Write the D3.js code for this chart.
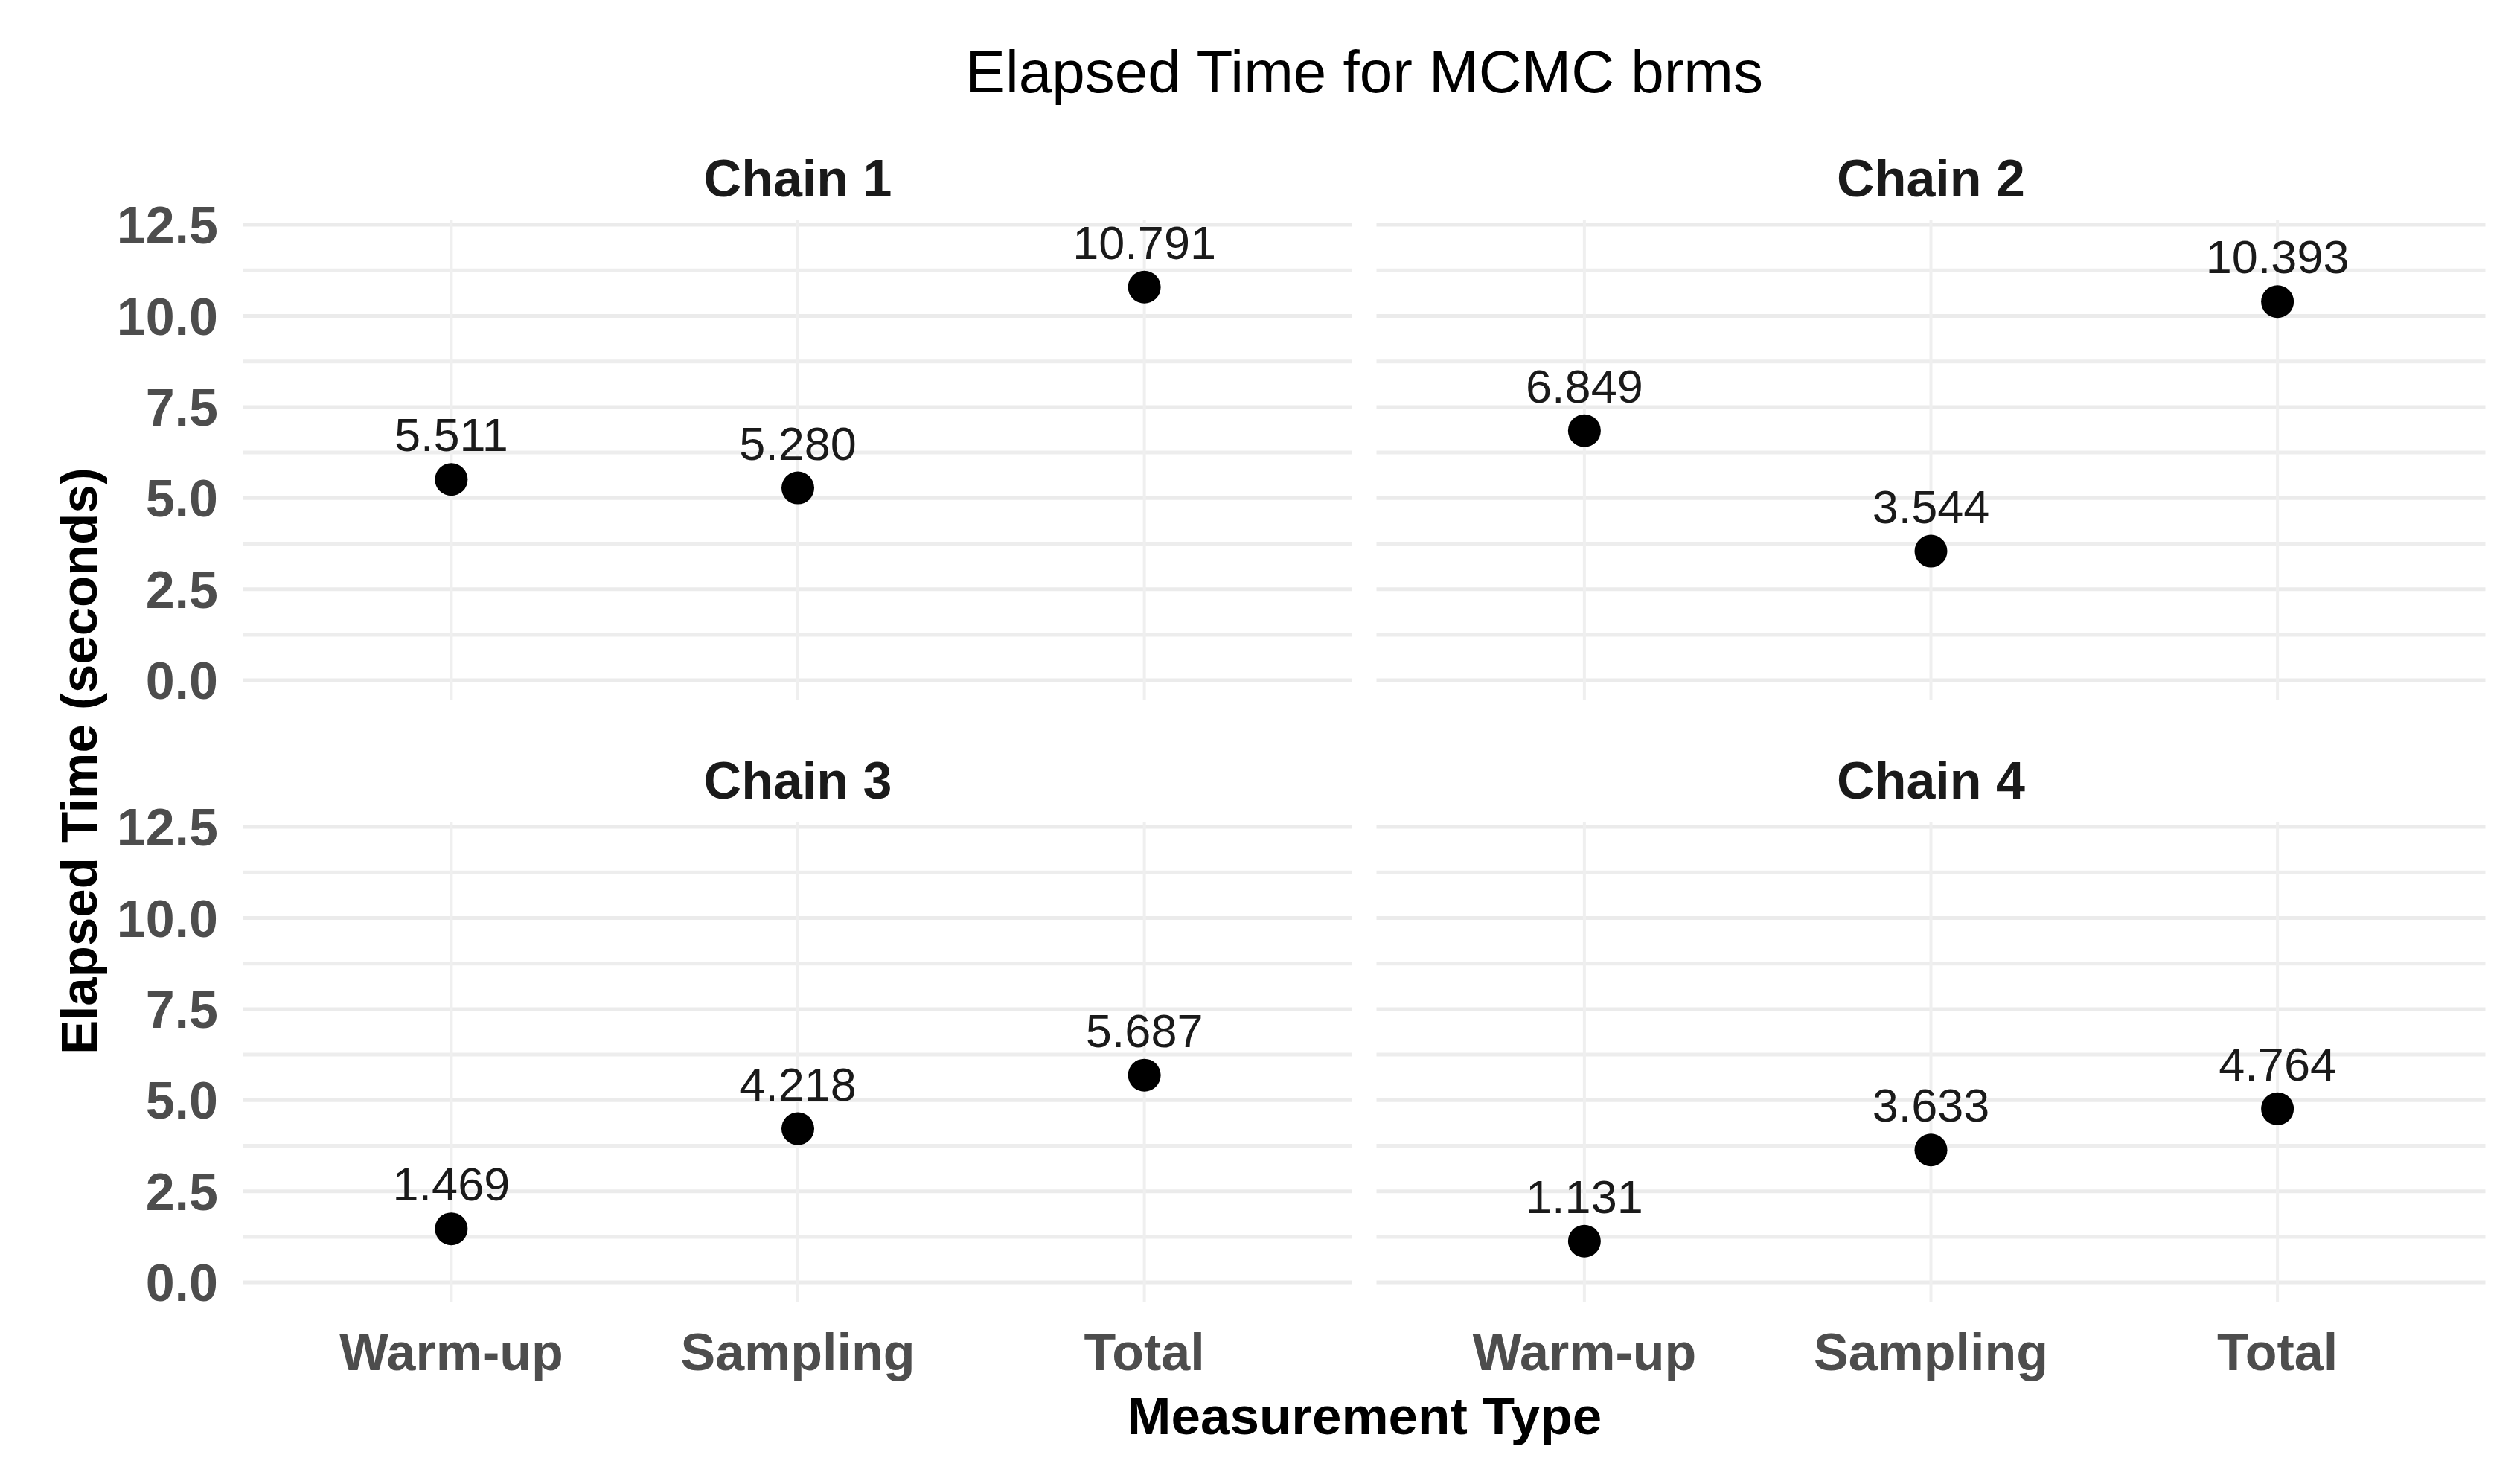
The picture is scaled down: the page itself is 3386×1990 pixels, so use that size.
<!DOCTYPE html>
<html>
<head>
<meta charset="utf-8">
<script src="https://cdn.jsdelivr.net/npm/d3@7"></script>
<style>
  html, body { margin: 0; padding: 0; background: #fff; }
  svg text { font-family: "Liberation Sans", Arial, sans-serif; }
</style>
</head>
<body>
<svg id="chart" width="3386" height="1990"></svg>
<script>
// ---- data ----
const chains = ["Chain 1", "Chain 2", "Chain 3", "Chain 4"];
const categories = ["Warm-up", "Sampling", "Total"];
const chain1 = [5.511, 5.280, 10.791];
const chain2 = [6.849, 3.544, 10.393];
const chain3 = [1.469, 4.218, 5.687];
const chain4 = [1.131, 3.633, 4.764];
const yTicks = [0, 2.5, 5, 7.5, 10, 12.5];
const yMinor = [1.25, 3.75, 6.25, 8.75, 11.25];
const titleText = "Elapsed Time for MCMC brms";
const xTitle = "Measurement Type";
const yTitle = "Elapsed Time (seconds)";

const series = [chain1, chain2, chain3, chain4];

// ---- layout ----
const svg = d3.select("#chart");
const W = 3386, H = 1990;
svg.append("rect").attr("width", W).attr("height", H).attr("fill", "#fff");

const colX = [327, 1849.5];
const panelW = 1490;
const rowY = [295, 1104];
const panelH = 646;

const yDomain = [-0.55, 12.645];

const font = "'Liberation Sans', Arial, sans-serif";

series.forEach((vals, i) => {
  const col = i % 2, row = Math.floor(i / 2);
  const x0 = colX[col], y0 = rowY[row];
  const x = d3.scalePoint().domain(categories).range([x0, x0 + panelW]).padding(0.6);
  const y = d3.scaleLinear().domain(yDomain).range([y0 + panelH, y0]);
  const g = svg.append("g");

  // minor grid
  g.selectAll(".minor").data(yMinor).join("line")
    .attr("x1", x0).attr("x2", x0 + panelW)
    .attr("y1", d => y(d)).attr("y2", d => y(d))
    .attr("stroke", "#ededed").attr("stroke-width", 5);
  // major grid
  g.selectAll(".major").data(yTicks).join("line")
    .attr("x1", x0).attr("x2", x0 + panelW)
    .attr("y1", d => y(d)).attr("y2", d => y(d))
    .attr("stroke", "#ebebeb").attr("stroke-width", 5);
  // vertical grid
  g.selectAll(".vgrid").data(categories).join("line")
    .attr("x1", d => x(d)).attr("x2", d => x(d))
    .attr("y1", y0).attr("y2", y0 + panelH)
    .attr("stroke", "#efefef").attr("stroke-width", 4);

  // strip title
  g.append("text")
    .attr("x", x0 + panelW / 2).attr("y", y0 - 31)
    .attr("text-anchor", "middle")
    .attr("font-size", 70).attr("font-weight", "bold")
    .attr("fill", "#1a1a1a")
    .text(chains[i]);

  // y tick labels (left column)
  if (col === 0) {
    g.selectAll(".ytl").data(yTicks).join("text")
      .attr("x", 293).attr("y", d => y(d))
      .attr("dy", "0.36em")
      .attr("text-anchor", "end")
      .attr("font-size", 70).attr("font-weight", "bold")
      .attr("fill", "#4d4d4d")
      .text(d => d3.format(".1f")(d));
  }
  // x tick labels (bottom row)
  if (row === 1) {
    g.selectAll(".xtl").data(categories).join("text")
      .attr("x", d => x(d)).attr("y", 1841)
      .attr("text-anchor", "middle")
      .attr("font-size", 70).attr("font-weight", "bold")
      .attr("fill", "#4d4d4d")
      .text(d => d);
  }

  const pts = categories.map((c, j) => ({ c, v: vals[j] }));
  // points
  g.selectAll(".pt").data(pts).join("circle")
    .attr("cx", d => x(d.c)).attr("cy", d => y(d.v))
    .attr("r", 22).attr("fill", "#000");
  // value labels
  g.selectAll(".lbl").data(pts).join("text")
    .attr("x", d => x(d.c)).attr("y", d => y(d.v) - 38)
    .attr("text-anchor", "middle")
    .attr("font-size", 63)
    .attr("fill", "#1a1a1a")
    .text(d => d3.format(".3f")(d.v));
});

// main title
svg.append("text")
  .attr("x", (colX[0] + colX[1] + panelW) / 2).attr("y", 124)
  .attr("text-anchor", "middle")
  .attr("font-size", 80)
  .attr("fill", "#000")
  .text(titleText);

// x axis title
svg.append("text")
  .attr("x", (colX[0] + colX[1] + panelW) / 2).attr("y", 1927)
  .attr("text-anchor", "middle")
  .attr("font-size", 71).attr("font-weight", "bold")
  .attr("fill", "#000")
  .text(xTitle);

// y axis title
svg.append("text")
  .attr("transform", `translate(130, ${(rowY[0] + rowY[1] + panelH) / 2}) rotate(-90)`)
  .attr("text-anchor", "middle")
  .attr("font-size", 69).attr("font-weight", "bold")
  .attr("fill", "#000")
  .text(yTitle);
</script>
</body>
</html>
